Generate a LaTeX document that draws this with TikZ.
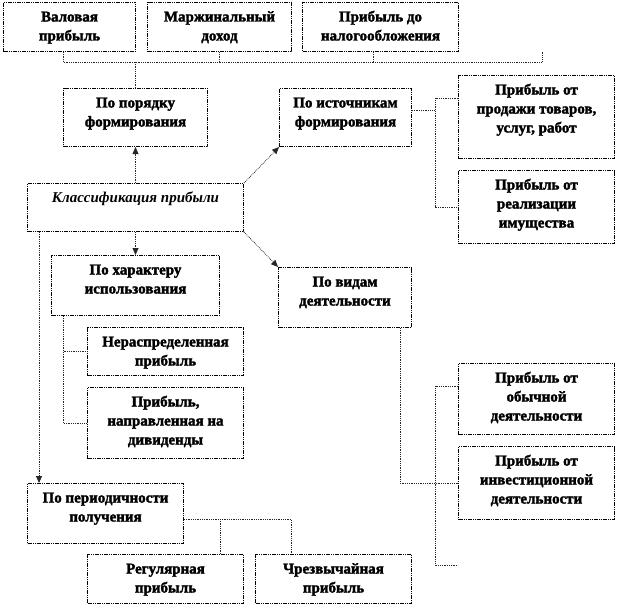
\documentclass[tikz,border=0pt]{standalone}
\usepackage{fontspec}
\setmainfont{Liberation Serif}[BoldFeatures={FakeBold=2}]
\usetikzlibrary{arrows.meta,calc}
\tikzset{
  scheme/.style={font=\fontsize{15}{19}\selectfont\bfseries,
    line width=.8pt, >={Triangle[length=7pt,width=6pt]}},
  % #1 width, #2 lines x 19pt, #3 what is left of the height below the last line
  box/.style n args={3}{draw=black, dash pattern=on 1.2pt off .6pt,
    line width=1pt, anchor=north west, align=center, inner xsep=2pt,
    inner ysep=0pt, minimum width=#1, text height=#2, text depth=#3},
  link/.style={draw=black!85, densely dotted, line width=.8pt},
  arr/.style={link,->},
}
\begin{document}
\begin{tikzpicture}[scheme,x=1pt,y=-1pt]
  \path[use as bounding box] (0,0) rectangle (618,615);

  % ---------------- top row ----------------
  \node[box={132pt}{38pt}{11pt}] (val)   at (3,2)   {Валовая\\прибыль};
  \node[box={144pt}{38pt}{11pt}] (marzh) at (147,2) {Маржинальный\\доход};
  \node[box={156pt}{38pt}{11pt}] (nalog) at (302,2) {Прибыль до\\налогообложения};

  % ---------------- groups around the centre ----------------
  \node[box={144pt}{38pt}{20pt}] (poryad) at (63,88)  {По порядку\\формирования};
  \node[box={132pt}{38pt}{20pt}] (istoch) at (279,88) {По источникам\\формирования};
  \node[box={216pt}{19pt}{29pt}] (klass)  at (27,183)
    {\itshape Классификация прибыли};
  \node[box={168pt}{38pt}{22pt}] (harakter) at (51,255) {По характеру\\использования};
  \node[box={133pt}{38pt}{22pt}] (vidy)     at (278,267) {По видам\\деятельности};
  \node[box={156pt}{38pt}{22pt}] (period)   at (27,483) {По периодичности\\получения};

  % ---------------- leaves ----------------
  \node[box={156pt}{57pt}{26pt}] (prodazha) at (458,75)
    {Прибыль от\\продажи товаров,\\услуг, работ};
  \node[box={156pt}{57pt}{16pt}] (imush) at (458,170)
    {Прибыль от\\реализации\\имущества};
  \node[box={156pt}{38pt}{10pt}] (neraspr) at (87,327) {Нераспределенная\\прибыль};
  \node[box={156pt}{57pt}{14pt}] (divid)   at (87,387)
    {Прибыль,\\направленная на\\дивиденды};
  \node[box={156pt}{57pt}{14pt}] (obych)  at (458,363)
    {Прибыль от\\обычной\\деятельности};
  \node[box={156pt}{57pt}{16pt}] (invest) at (458,446)
    {Прибыль от\\инвестиционной\\деятельности};
  \node[box={156pt}{38pt}{11pt}] (regul)  at (87,554)  {Регулярная\\прибыль};
  \node[box={156pt}{38pt}{11pt}] (chrezv) at (255,554) {Чрезвычайная\\прибыль};

  % bracket under the top row
  \coordinate (brL) at (63,62);
  \coordinate (brR) at (542,62);
  \draw[link] (val.south -| brL) -- (brL) -- (brR) -- (brR |- val.south);
  \draw[link] (marzh.south) -- (marzh.south |- brL);
  \draw[link] ([xshift=-7pt]nalog.south) -- ([xshift=-7pt]nalog.south |- brL);
  \draw[link] (poryad.north) -- (poryad.north |- brL);

  % arrows out of the centre
  \draw[arr] (klass.north) -- (poryad.south);
  \draw[arr] (klass.north east) -- (istoch.south west);
  \draw[arr] (klass.south east) -- (vidy.north west);
  \draw[arr] (klass.south) -- (harakter.north);
  \draw[arr] ([xshift=12pt]klass.south west) -- ([xshift=12pt]period.north west);

  % sources
  \coordinate (srcbus) at (435,110);
  \draw[link] ([yshift=-22pt]istoch.north east) -- (srcbus);
  \draw[link] ([yshift=-23pt]prodazha.north west) -| (srcbus) |- (imush.west);

  % use
  \draw[link] ([xshift=12pt]harakter.south west) |- (neraspr.west);
  \draw[link] ([xshift=12pt]harakter.south west) |- (divid.west);

  % activities
  \coordinate (actbus) at (435,565);
  \coordinate (actend) at (458,565);
  \draw[link] ([xshift=-12pt]vidy.south east) |- (invest.west);
  \draw[link] ([yshift=-23pt]obych.north west) -| (actbus) -- (actend);

  % periodicity
  \coordinate (perR) at (291,519);
  \draw[link] ([yshift=-36pt]period.north east) -- (perR) -- (perR |- chrezv.north);
  \draw[link] ([xshift=-24pt]regul.north east) -- ([xshift=-24pt]regul.north east |- perR);
\end{tikzpicture}
\end{document}
